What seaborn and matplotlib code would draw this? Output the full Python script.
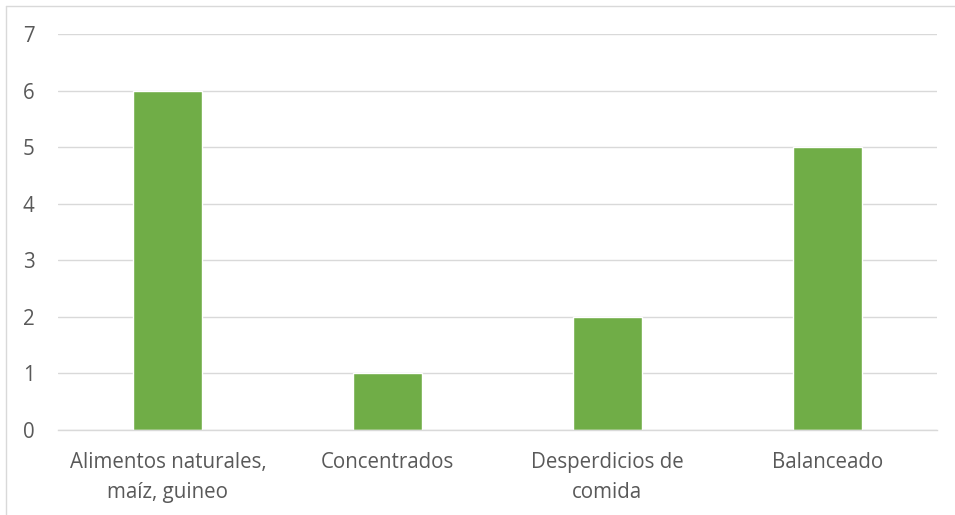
import matplotlib
matplotlib.use('Agg')
import matplotlib.pyplot as plt
import seaborn as sns
import pandas as pd
from matplotlib.lines import Line2D

categorias = ['Alimentos naturales,\nmaíz, guineo', 'Concentrados',
              'Desperdicios de\ncomida', 'Balanceado']
valores = [6, 1, 2, 5]

sns.set_theme(style='white')
plt.rcParams['font.family'] = ['Open Sans', 'DejaVu Sans']

dt = pd.DataFrame({'Categoria': categorias, 'Valor': valores})

fig = plt.figure(figsize=(9.55, 5.15), dpi=100)
ax = fig.add_axes([58 / 955, 1 - 430 / 515, 879 / 955, 396 / 515])

sns.barplot(data=dt, x='Categoria', y='Valor', color='#70AD47', width=0.315,
            saturation=1, ax=ax, zorder=2)

ax.set_xlim(-0.5, 3.5)
ax.set_ylim(0, 7)
ax.set_yticks(range(0, 8))
ax.set_xlabel('')
ax.set_ylabel('')
ax.grid(axis='y', color='#D9D9D9', linewidth=1, zorder=0)
ax.set_axisbelow(True)
for s in ['top', 'right', 'left']:
    ax.spines[s].set_visible(False)
ax.spines['bottom'].set_color('#D9D9D9')
ax.spines['bottom'].set_linewidth(1)
ax.tick_params(axis='both', length=0, labelsize=14.8, colors='#595959')
ax.tick_params(axis='x', pad=16)
ax.tick_params(axis='y', pad=17)
for lbl in ax.get_xticklabels():
    lbl.set_linespacing(1.55)

# marco del grafico
fig.add_artist(Line2D([6 / 955, 6 / 955], [0, 1 - 6 / 515], transform=fig.transFigure,
                      color='#D9D9D9', linewidth=1))
fig.add_artist(Line2D([6 / 955, 1], [1 - 6 / 515, 1 - 6 / 515], transform=fig.transFigure,
                      color='#D9D9D9', linewidth=1))

plt.savefig('out.png', dpi=100)
plt.close()
